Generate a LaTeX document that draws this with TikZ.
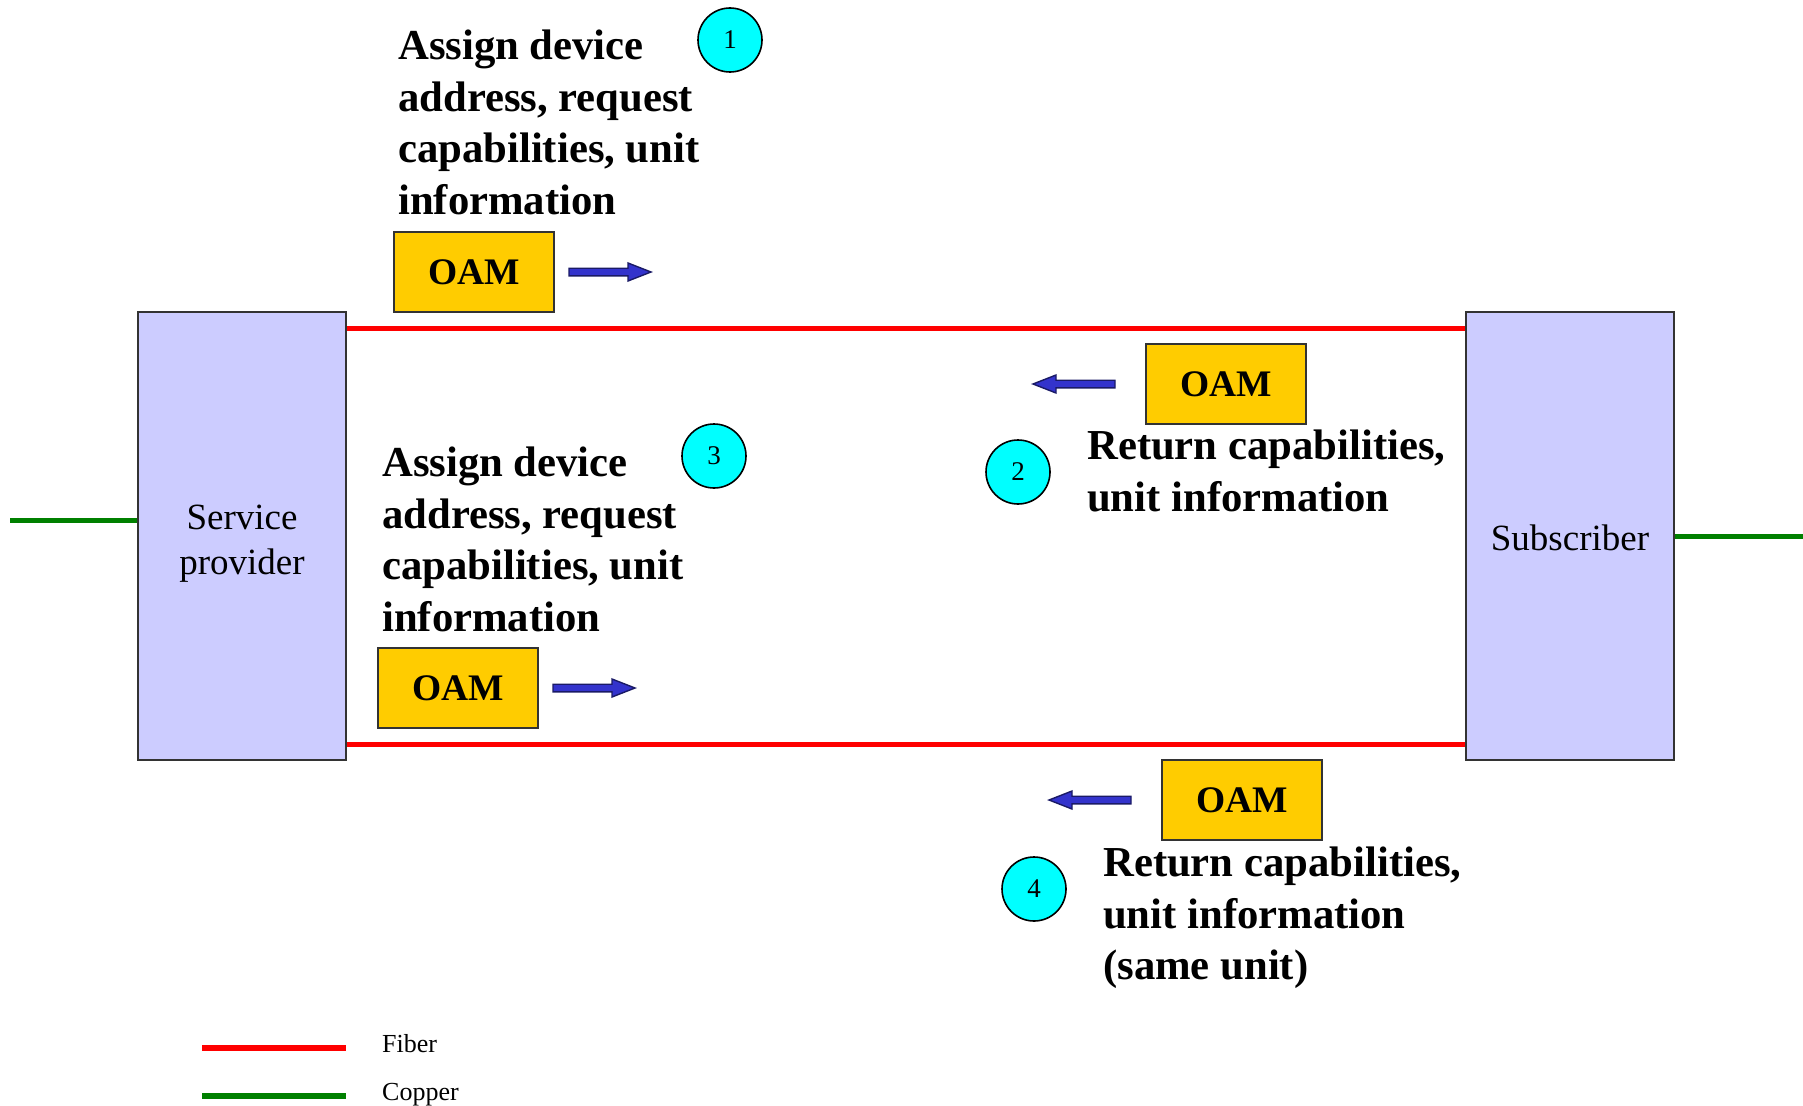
\documentclass[tikz,border=0pt]{standalone}
\usepackage{fontspec}
\setmainfont{Liberation Serif}
\usetikzlibrary{calc}
\definecolor{boxlilac}{HTML}{CCCCFF}
\definecolor{oamgold}{HTML}{FFCC00}
\definecolor{edgegray}{HTML}{333333}
\definecolor{arrowfill}{HTML}{3333CC}
\definecolor{arrowedge}{HTML}{1A1A66}
\definecolor{fibercol}{HTML}{FF0000}
\definecolor{coppercol}{HTML}{008000}
\definecolor{stepcyan}{HTML}{00FFFF}
\begin{document}
\begin{tikzpicture}[x=1pt,y=-1pt,
  unitbox/.style={draw=edgegray,line width=1.6pt,fill=boxlilac,minimum width=208pt,minimum height=448pt,inner sep=0pt},
  unitlabel/.style={align=center,inner sep=0pt,font=\fontsize{37}{45}\selectfont},
  oambox/.style={draw=edgegray,line width=1.6pt,fill=oamgold,minimum width=160pt,minimum height=80pt,inner sep=0pt,
    font=\fontsize{37.5}{44}\selectfont\bfseries},
  stepnum/.style={circle,draw=black,line width=1.6pt,fill=stepcyan,minimum size=64pt,inner sep=0pt,
    font=\fontsize{27}{32}\selectfont},
  msg/.style={anchor=base west,align=left,inner sep=0pt,font=\fontsize{42.7}{51.5}\selectfont\bfseries},
  fiber/.style={draw=fibercol,line width=5pt},
  copper/.style={draw=coppercol,line width=5pt},
  legendtext/.style={anchor=base west,inner sep=0pt,font=\fontsize{26}{31}\selectfont},
  blockarrow/.style={fill=arrowfill,draw=arrowedge,line width=1.4pt,line join=miter},
  rarr/.pic={\filldraw[blockarrow] (-41,-3.8) -- (18,-3.8) -- (18,-9) -- (41,0) -- (18,9) -- (18,3.8) -- (-41,3.8) -- cycle;},
  larr/.pic={\filldraw[blockarrow] (41,-3.8) -- (-18,-3.8) -- (-18,-9) -- (-41,0) -- (-18,9) -- (-18,3.8) -- (41,3.8) -- cycle;}
]
\useasboundingbox (0,0) rectangle (1803,1105);

% end units
\node[unitbox,label={[unitlabel,yshift=-8pt]center:Service\\provider}] (sp) at (242,536) {};
\node[unitbox,label={[unitlabel,yshift=-2pt]center:Subscriber}] (sub) at (1570,536) {};

% fiber links between the units
\coordinate (ftop) at (0,328);
\coordinate (fbot) at (0,744);
\draw[fiber] (sp.east |- ftop) -- (sub.west |- ftop);
\draw[fiber] (sp.east |- fbot) -- (sub.west |- fbot);

% copper tails
\coordinate (cleft) at (10,520);
\coordinate (cright) at (1803,536);
\draw[copper] (cleft) -- (sp.west |- cleft);
\draw[copper] (sub.east |- cright) -- (cright);

% step 1 (message anchors sit on the last line's baseline)
\node[msg] (t1) at (398,214) {Assign device\\address, request\\capabilities, unit\\information};
\node[stepnum] (n1) at (730,40) {1};
\node[oambox] (o1) at (474,272) {OAM};
\pic (a1) at (610,272) {rarr};

% step 2
\node[oambox] (o2) at (1226,384) {OAM};
\pic (a2) at (1074,384) {larr};
\node[stepnum] (n2) at (1018,472) {2};
\node[msg] (t2) at (1087,511) {Return capabilities,\\unit information};

% step 3
\node[msg] (t3) at (382,631) {Assign device\\address, request\\capabilities, unit\\information};
\node[stepnum] (n3) at (714,456) {3};
\node[oambox] (o3) at (458,688) {OAM};
\pic (a3) at (594,688) {rarr};

% step 4
\node[oambox] (o4) at (1242,800) {OAM};
\pic (a4) at (1090,800) {larr};
\node[stepnum] (n4) at (1034,889) {4};
\node[msg] (t4) at (1103,979.5) {Return capabilities,\\unit information\\(same unit)};

% legend
\coordinate (lf1) at (202,1048);
\coordinate (lf2) at (346,1048);
\coordinate (lc1) at (202,1096);
\coordinate (lc2) at (346,1096);
\draw[fiber,line width=6pt] (lf1) -- (lf2);
\draw[copper,line width=6pt] (lc1) -- (lc2);
\node[legendtext] (lfib) at (382,1052) {Fiber};
\node[legendtext] (lcop) at (382,1100) {Copper};
\end{tikzpicture}
\end{document}
